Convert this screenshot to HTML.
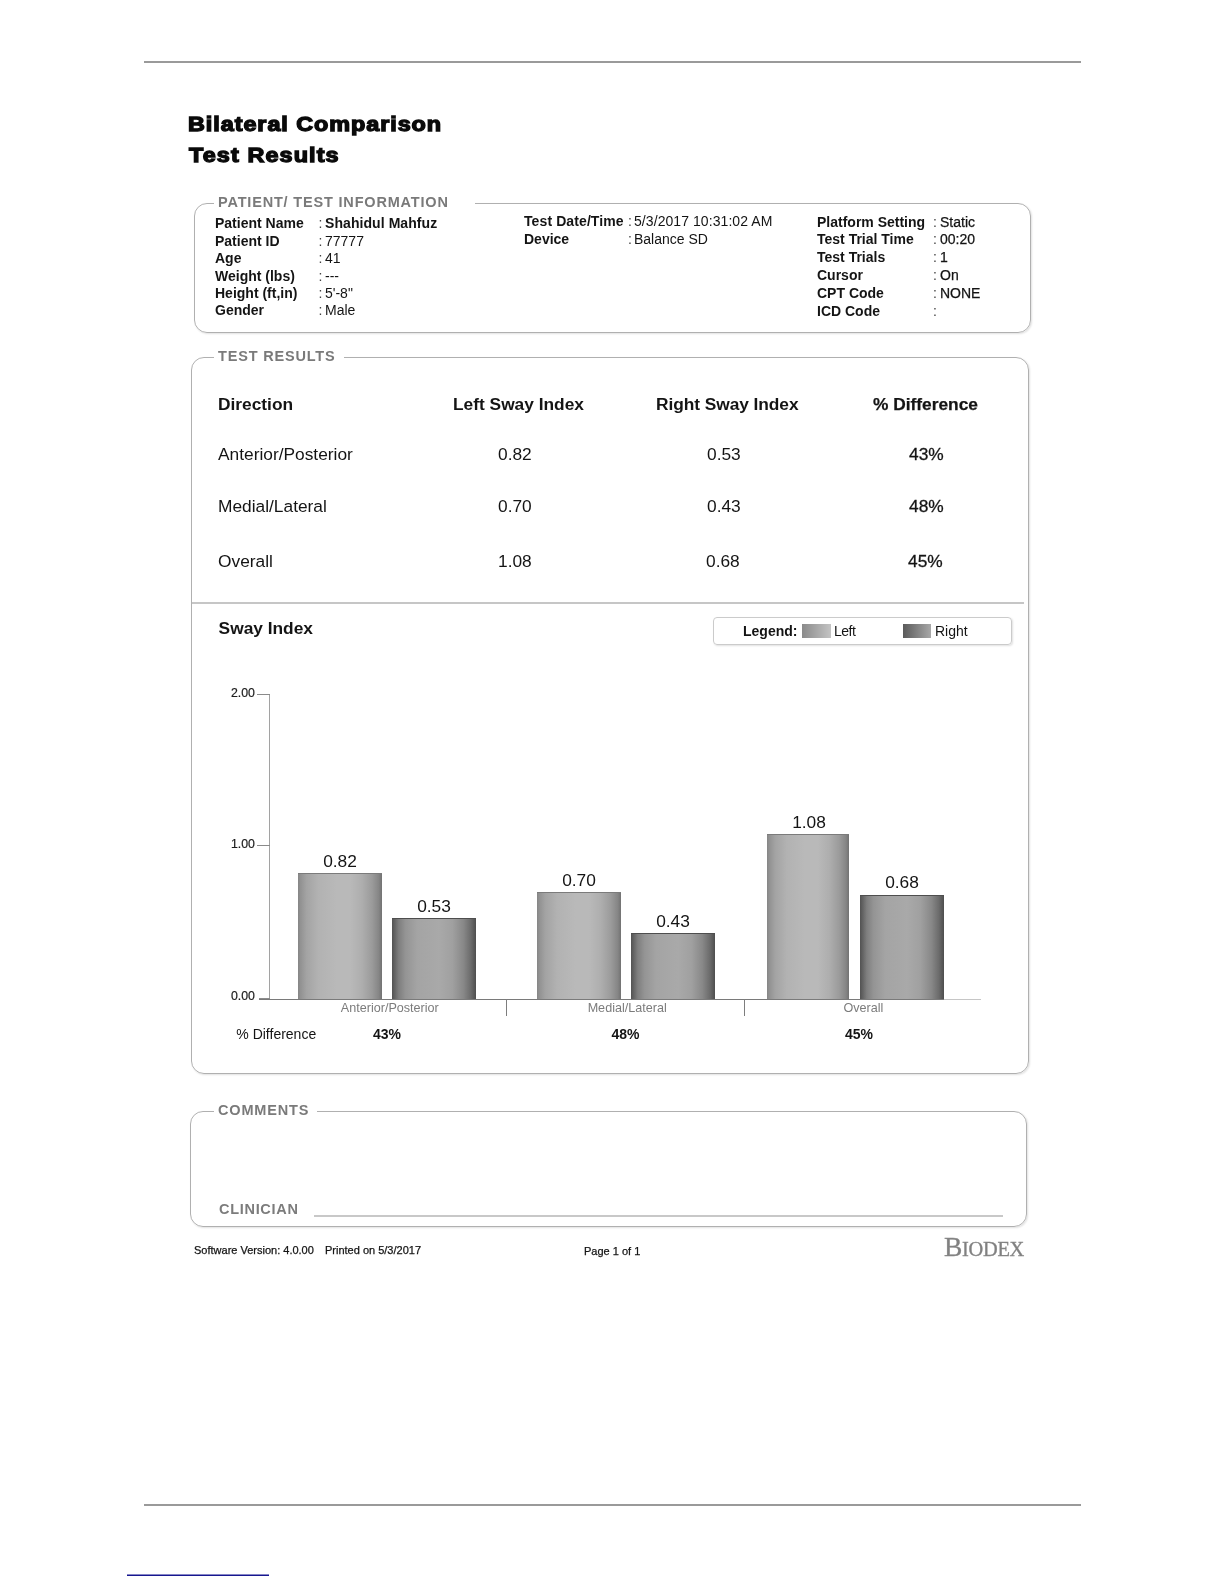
<!DOCTYPE html>
<html lang="en">
<head>
<meta charset="utf-8">
<title>Bilateral Comparison Test Results</title>
<style>
*{box-sizing:border-box;margin:0;padding:0}
html,body{width:1224px;height:1584px;background:#fff;overflow:hidden}
body{position:relative;font-family:"Liberation Sans",Arial,Helvetica,sans-serif;color:#141414}
.t{position:absolute;white-space:nowrap;line-height:1;font-weight:400}
.b{font-weight:700}
.rule{position:absolute;left:144px;width:937px;height:2px;background:#9a9a9a}
.box{position:absolute;border:1px solid #b0b0b0;border-radius:13px;box-shadow:1px 1px 2px rgba(0,0,0,.12)}
.lbl{position:absolute;background:#fff;color:#7a7a7a;font-weight:700;white-space:nowrap;line-height:1;letter-spacing:.82px}
main{position:absolute;left:0;top:0;width:1224px;height:1584px;filter:grayscale(1)}
.blue{position:absolute;left:127px;top:1574px;width:142px;height:2px;background:linear-gradient(#8686c6 0,#8686c6 1px,#17178f 1px,#17178f 2px)}
.logo{font-family:'Liberation Serif','DejaVu Serif',serif;color:#808080;letter-spacing:-.3px;-webkit-text-stroke:.35px #8a8a8a}
h1.t{font-weight:700;color:#0a0a0a;-webkit-text-stroke:1.3px #0a0a0a;transform:scaleX(1.17);transform-origin:0 50%}
</style>
</head>
<body>
<div class="rule" style="top:61px"></div>
<div class="rule" style="top:1504px"></div>
<div class="blue"></div>
<main>
<header>
<h1 class="t b ttl" style="left:188.40px;top:114.17px;font-size:20.0px;letter-spacing:0.8px;">Bilateral Comparison</h1>
<h1 class="t b ttl" style="left:188.70px;top:144.97px;font-size:20.0px;letter-spacing:0.95px;">Test Results</h1>
</header>
<section aria-label="Patient and test information">
<div class="box" style="left:194px;top:203px;width:837px;height:130px"></div>
<h2 class="lbl" style="left:214px;top:195px;font-size:14.5px;padding:0 26px 0 4px">PATIENT/ TEST INFORMATION</h2>
<span class="t b" style="left:215.00px;top:216.15px;font-size:14px;">Patient Name</span>
<span class="t" style="left:318.60px;top:216.15px;font-size:14px;color:#444;">:</span>
<span class="t b" style="left:325.00px;top:216.15px;font-size:14px;letter-spacing:0.07px;">Shahidul Mahfuz</span>
<span class="t b" style="left:215.00px;top:233.60px;font-size:14px;">Patient ID</span>
<span class="t" style="left:318.60px;top:233.60px;font-size:14px;color:#444;">:</span>
<span class="t" style="left:325.00px;top:233.60px;font-size:14px;">77777</span>
<span class="t b" style="left:215.00px;top:251.05px;font-size:14px;">Age</span>
<span class="t" style="left:318.60px;top:251.05px;font-size:14px;color:#444;">:</span>
<span class="t" style="left:325.00px;top:251.05px;font-size:14px;">41</span>
<span class="t b" style="left:215.00px;top:268.50px;font-size:14px;">Weight (lbs)</span>
<span class="t" style="left:318.60px;top:268.50px;font-size:14px;color:#444;">:</span>
<span class="t" style="left:325.00px;top:268.50px;font-size:14px;">---</span>
<span class="t b" style="left:215.00px;top:285.95px;font-size:14px;">Height (ft,in)</span>
<span class="t" style="left:318.60px;top:285.95px;font-size:14px;color:#444;">:</span>
<span class="t" style="left:325.00px;top:285.95px;font-size:14px;">5'-8"</span>
<span class="t b" style="left:215.00px;top:303.40px;font-size:14px;">Gender</span>
<span class="t" style="left:318.60px;top:303.40px;font-size:14px;color:#444;">:</span>
<span class="t" style="left:325.00px;top:303.40px;font-size:14px;">Male</span>
<span class="t b" style="left:524.00px;top:213.95px;font-size:14px;letter-spacing:0.1px;">Test Date/Time</span>
<span class="t" style="left:628.00px;top:213.95px;font-size:14px;color:#444;">:</span>
<span class="t" style="left:634.00px;top:213.95px;font-size:14px;letter-spacing:0.07px;">5/3/2017 10:31:02 AM</span>
<span class="t b" style="left:524.00px;top:232.15px;font-size:14px;letter-spacing:0px;">Device</span>
<span class="t" style="left:628.00px;top:232.15px;font-size:14px;color:#444;">:</span>
<span class="t" style="left:634.00px;top:232.15px;font-size:14px;letter-spacing:0px;">Balance SD</span>
<span class="t b" style="left:817.00px;top:214.65px;font-size:14px;">Platform Setting</span>
<span class="t" style="left:933.00px;top:214.65px;font-size:14px;color:#444;">:</span>
<span class="t" style="left:940.00px;top:214.65px;font-size:14px;-webkit-text-stroke:.25px;">Static</span>
<span class="t b" style="left:817.00px;top:232.45px;font-size:14px;">Test Trial Time</span>
<span class="t" style="left:933.00px;top:232.45px;font-size:14px;color:#444;">:</span>
<span class="t" style="left:940.00px;top:232.45px;font-size:14px;-webkit-text-stroke:.25px;">00:20</span>
<span class="t b" style="left:817.00px;top:250.25px;font-size:14px;">Test Trials</span>
<span class="t" style="left:933.00px;top:250.25px;font-size:14px;color:#444;">:</span>
<span class="t" style="left:940.00px;top:250.25px;font-size:14px;-webkit-text-stroke:.25px;">1</span>
<span class="t b" style="left:817.00px;top:268.05px;font-size:14px;">Cursor</span>
<span class="t" style="left:933.00px;top:268.05px;font-size:14px;color:#444;">:</span>
<span class="t" style="left:940.00px;top:268.05px;font-size:14px;-webkit-text-stroke:.25px;">On</span>
<span class="t b" style="left:817.00px;top:285.85px;font-size:14px;">CPT Code</span>
<span class="t" style="left:933.00px;top:285.85px;font-size:14px;color:#444;">:</span>
<span class="t" style="left:940.00px;top:285.85px;font-size:14px;-webkit-text-stroke:.25px;">NONE</span>
<span class="t b" style="left:817.00px;top:303.65px;font-size:14px;">ICD Code</span>
<span class="t" style="left:933.00px;top:303.65px;font-size:14px;color:#444;">:</span>
</section>
<section aria-label="Test results">
<div class="box" style="left:191px;top:357px;width:838px;height:717px"></div>
<h2 class="lbl" style="left:214px;top:349px;font-size:14.5px;padding:0 8px 0 4px">TEST RESULTS</h2>
<span class="t b" style="left:218.00px;top:395.53px;font-size:17.33px;">Direction</span>
<span class="t b" style="left:453.00px;top:395.53px;font-size:17.33px;">Left Sway Index</span>
<span class="t b" style="left:656.00px;top:395.53px;font-size:17.33px;letter-spacing:-0.06px;">Right Sway Index</span>
<span class="t b" style="left:873.00px;top:395.53px;font-size:17.33px;-webkit-text-stroke:.25px;">% Difference</span>
<span class="t" style="left:218.00px;top:446.03px;font-size:17.33px;">Anterior/Posterior</span>
<span class="t" style="left:498.00px;top:446.03px;font-size:17.33px;">0.82</span>
<span class="t" style="left:707.00px;top:446.03px;font-size:17.33px;">0.53</span>
<span class="t" style="left:909.00px;top:446.03px;font-size:17.33px;-webkit-text-stroke:.3px;">43%</span>
<span class="t" style="left:218.00px;top:498.13px;font-size:17.33px;">Medial/Lateral</span>
<span class="t" style="left:498.00px;top:498.13px;font-size:17.33px;">0.70</span>
<span class="t" style="left:707.00px;top:498.13px;font-size:17.33px;">0.43</span>
<span class="t" style="left:909.00px;top:498.13px;font-size:17.33px;-webkit-text-stroke:.3px;">48%</span>
<span class="t" style="left:218.00px;top:553.43px;font-size:17.33px;">Overall</span>
<span class="t" style="left:498.00px;top:553.43px;font-size:17.33px;">1.08</span>
<span class="t" style="left:706.00px;top:553.43px;font-size:17.33px;">0.68</span>
<span class="t" style="left:908.00px;top:553.43px;font-size:17.33px;-webkit-text-stroke:.3px;">45%</span>
<div style="position:absolute;left:192px;top:602px;width:832px;height:2px;background:#c6c6c6"></div>
<h3 class="t b" style="left:218.60px;top:620.13px;font-size:17.33px;">Sway Index</h3>
<div style="position:absolute;left:713px;top:617px;width:299px;height:28px;border:1px solid #cbcbcb;border-radius:4px;box-shadow:1px 1px 2px rgba(0,0,0,.12)"></div>
<span class="t b" style="left:743.00px;top:624.15px;font-size:14px;">Legend:</span>
<div style="position:absolute;left:802px;top:624px;width:29px;height:14px;background:linear-gradient(90deg,#8a8a8a,#c4c4c4)"></div>
<span class="t" style="left:834.00px;top:623.65px;font-size:14px;letter-spacing:-0.5px;">Left</span>
<div style="position:absolute;left:903px;top:624px;width:28px;height:14px;background:linear-gradient(90deg,#5a5a5a,#a8a8a8)"></div>
<span class="t" style="left:935.00px;top:623.65px;font-size:14px;">Right</span>
<figure aria-label="Sway Index bar chart">
<div style="position:absolute;left:269px;top:694px;width:1px;height:305px;background:#a2a2a2"></div>
<div style="position:absolute;left:259px;top:999px;width:685px;height:1px;background:#7a7a7a"></div>
<div style="position:absolute;left:259px;top:998px;width:11px;height:1px;background:#8c8c8c"></div>
<div style="position:absolute;left:944px;top:999px;width:37px;height:1px;background:#c6c6c6"></div>
<span class="t" style="left:231.00px;top:687.49px;font-size:12.3px;color:#1c1c1c;-webkit-text-stroke:.2px;">2.00</span>
<div style="position:absolute;left:257px;top:694px;width:13px;height:1px;background:#8a8a8a"></div>
<span class="t" style="left:231.00px;top:837.79px;font-size:12.3px;color:#1c1c1c;-webkit-text-stroke:.2px;">1.00</span>
<div style="position:absolute;left:257px;top:845px;width:13px;height:1px;background:#8a8a8a"></div>
<span class="t" style="left:231.00px;top:990.19px;font-size:12.3px;color:#1c1c1c;-webkit-text-stroke:.2px;">0.00</span>
<div style="position:absolute;left:298px;top:873px;width:84px;height:126px;background:linear-gradient(90deg,#858585 0%,#929292 3%,#a3a3a3 10%,#b2b2b0 24%,#b9b9b7 46%,#b9b9b7 62%,#aeaeac 76%,#9b9b9b 88%,#868686 96%,#727272 100%);border-top:1px solid #7b7b7b"></div>
<span class="t" style="left:340.00px;top:852.83px;font-size:17.33px;transform:translateX(-50%);">0.82</span>
<div style="position:absolute;left:392px;top:918px;width:84px;height:81px;background:linear-gradient(90deg,#525252 0%,#626262 3%,#7e7e7e 8%,#949493 16%,#a4a4a2 30%,#a9a9a7 56%,#a0a09f 72%,#888888 85%,#6b6b6b 94%,#4e4e4e 100%);border-top:1px solid #4e4e4e"></div>
<span class="t" style="left:434.00px;top:897.53px;font-size:17.33px;transform:translateX(-50%);">0.53</span>
<div style="position:absolute;left:537px;top:892px;width:84px;height:107px;background:linear-gradient(90deg,#858585 0%,#929292 3%,#a3a3a3 10%,#b2b2b0 24%,#b9b9b7 46%,#b9b9b7 62%,#aeaeac 76%,#9b9b9b 88%,#868686 96%,#727272 100%);border-top:1px solid #7b7b7b"></div>
<span class="t" style="left:579.00px;top:871.83px;font-size:17.33px;transform:translateX(-50%);">0.70</span>
<div style="position:absolute;left:631px;top:933px;width:84px;height:66px;background:linear-gradient(90deg,#525252 0%,#626262 3%,#7e7e7e 8%,#949493 16%,#a4a4a2 30%,#a9a9a7 56%,#a0a09f 72%,#888888 85%,#6b6b6b 94%,#4e4e4e 100%);border-top:1px solid #4e4e4e"></div>
<span class="t" style="left:673.00px;top:912.63px;font-size:17.33px;transform:translateX(-50%);">0.43</span>
<div style="position:absolute;left:767px;top:834px;width:82px;height:165px;background:linear-gradient(90deg,#858585 0%,#929292 3%,#a3a3a3 10%,#b2b2b0 24%,#b9b9b7 46%,#b9b9b7 62%,#aeaeac 76%,#9b9b9b 88%,#868686 96%,#727272 100%);border-top:1px solid #7b7b7b"></div>
<span class="t" style="left:809.00px;top:813.83px;font-size:17.33px;transform:translateX(-50%);">1.08</span>
<div style="position:absolute;left:860px;top:895px;width:84px;height:104px;background:linear-gradient(90deg,#525252 0%,#626262 3%,#7e7e7e 8%,#949493 16%,#a4a4a2 30%,#a9a9a7 56%,#a0a09f 72%,#888888 85%,#6b6b6b 94%,#4e4e4e 100%);border-top:1px solid #4e4e4e"></div>
<span class="t" style="left:902.00px;top:874.33px;font-size:17.33px;transform:translateX(-50%);">0.68</span>
<span class="t" style="left:389.80px;top:1002.43px;font-size:12.6px;color:#7c7c7c;transform:translateX(-50%);">Anterior/Posterior</span>
<span class="t" style="left:627.20px;top:1002.43px;font-size:12.6px;color:#7c7c7c;transform:translateX(-50%);">Medial/Lateral</span>
<span class="t" style="left:863.40px;top:1002.43px;font-size:12.6px;color:#7c7c7c;transform:translateX(-50%);">Overall</span>
<div style="position:absolute;left:506px;top:999px;width:1px;height:17px;background:#7d7d7d"></div>
<div style="position:absolute;left:744px;top:999px;width:1px;height:17px;background:#7d7d7d"></div>
<span class="t" style="left:236.30px;top:1027.15px;font-size:14px;">% Difference</span>
<span class="t b" style="left:373.00px;top:1027.15px;font-size:14px;">43%</span>
<span class="t b" style="left:611.50px;top:1027.15px;font-size:14px;">48%</span>
<span class="t b" style="left:845.00px;top:1027.15px;font-size:14px;">45%</span>
</figure>
</section>
<section aria-label="Comments">
<div class="box" style="left:190px;top:1111px;width:837px;height:116px"></div>
<h2 class="lbl" style="left:214px;top:1103px;font-size:14.5px;padding:0 8px 0 4px">COMMENTS</h2>
<span class="t b" style="left:219.00px;top:1202.03px;font-size:14.5px;letter-spacing:0.7px;color:#7c7c7c;">CLINICIAN</span>
<div style="position:absolute;left:314px;top:1215px;width:689px;height:2px;background:#c8c8c8"></div>
</section>
<footer>
<span class="t" style="left:194.00px;top:1244.69px;font-size:11px;-webkit-text-stroke:.25px;">Software Version: 4.0.00</span>
<span class="t" style="left:325.00px;top:1244.69px;font-size:11px;-webkit-text-stroke:.25px;">Printed on 5/3/2017</span>
<span class="t" style="left:584.00px;top:1245.69px;font-size:11px;-webkit-text-stroke:.25px;">Page 1 of 1</span>
<span class="t logo" style="left:944px;top:1230px;font-size:27.5px;line-height:34px">B<span style="font-size:20.4px">IODEX</span></span>
</footer>
</main>
</body>
</html>
